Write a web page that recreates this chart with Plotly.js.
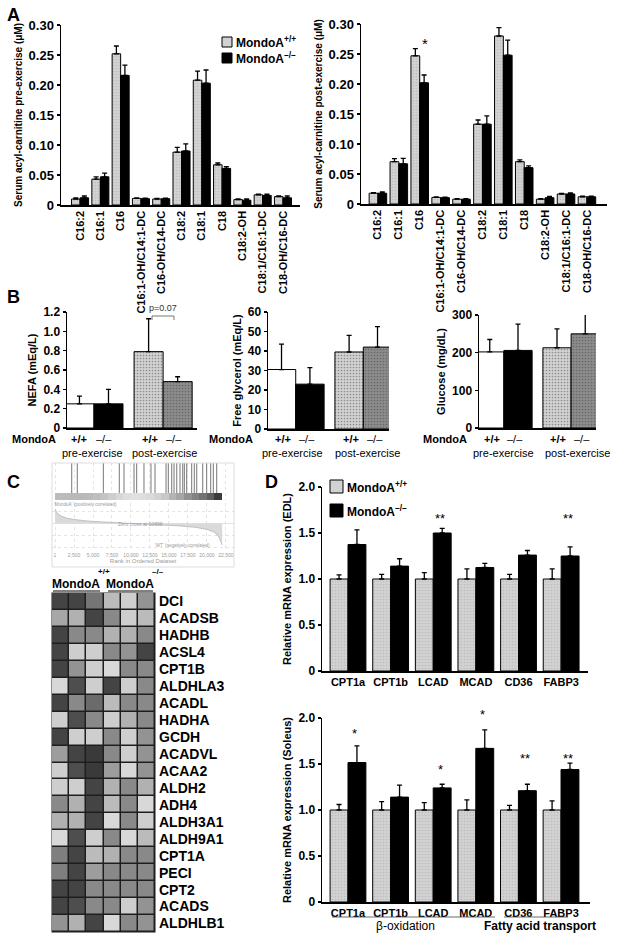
<!DOCTYPE html>
<html><head><meta charset="utf-8">
<script src="https://cdn.plot.ly/plotly-3.0.1.min.js"></script>
<style>body{margin:0;padding:0;background:#fff}#chart{width:621px;height:938px}</style>
</head><body><div id="chart"></div>
<script>
// ---------- DATA ----------
// Panel A: serum acyl-carnitines (uM)
const acylCategories = ["C16:2","C16:1","C16","C16:1-OH/C14:1-DC","C16-OH/C14-DC","C18:2","C18:1","C18","C18:2-OH","C18:1/C16:1-DC","C18-OH/C16-DC"];
const preWT     = [0.010,0.043,0.252,0.011,0.010,0.088,0.208,0.067,0.009,0.017,0.014];
const preWTErr  = [0.002,0.004,0.013,0.001,0.001,0.008,0.015,0.003,0.001,0.001,0.001];
const preKO     = [0.012,0.047,0.216,0.0105,0.0105,0.090,0.203,0.061,0.008,0.016,0.012];
const preKOErr  = [0.003,0.006,0.017,0.001,0.001,0.012,0.022,0.003,0.002,0.002,0.003];
const postWT    = [0.018,0.0705,0.247,0.011,0.008,0.133,0.280,0.0705,0.008,0.0167,0.012];
const postWTErr = [0.001,0.005,0.012,0.001,0.001,0.007,0.014,0.003,0.001,0.001,0.001];
const postKO    = [0.018,0.067,0.202,0.0105,0.008,0.133,0.248,0.0605,0.0105,0.0167,0.012];
const postKOErr = [0.002,0.009,0.013,0.001,0.001,0.014,0.025,0.003,0.002,0.002,0.001];
const postStarCategory = "C16";
const postStarY = 0.268;

// Panel B
const exerciseGroups = ["pre-exercise","post-exercise"];
const nefaWT = [0.25,0.79],  nefaWTErr = [0.08,0.34];
const nefaKO = [0.25,0.48],  nefaKOErr = [0.15,0.05];
const glycerolWT = [30.5,39.5], glycerolWTErr = [13,8.5];
const glycerolKO = [23,42],     glycerolKOErr = [8.5,10.5];
const glucoseWT = [202,213], glucoseWTErr = [33,50];
const glucoseKO = [206,250], glucoseKOErr = [70,52];

// Panel C: GSEA
const hitRanks = [2200,2930,6360,8460,9080,10400,10750,11710,12630,13160,14610,14910,15360,15660,16020,16450,16810,17020,17330,17990,18330,18650,19440,19960,20490,20830,21280];
const metricRanks  = [0,300,800,1500,2500,4000,6000,8000,10000,10900,12500,14500,16500,18500,20000,21000,21600,22000];
const metricValues = [0.42,0.30,0.22,0.16,0.12,0.08,0.05,0.03,0.01,0,-0.02,-0.04,-0.07,-0.11,-0.17,-0.25,-0.40,-0.62];
const colorBarRanks  = [500,1500,2500,3500,4500,5500,6500,7500,8500,9500,10500,11500,12500,13500,14500,15500,16500,17500,18500,19500,20500,21500];
const colorBarLevels = [188,186,185,184,186,190,196,205,215,222,224,222,218,210,200,180,165,145,130,115,95,60];
const rankTickVals = [1,2500,5000,7500,10000,12500,15000,17500,20000,22500];
const rankTickText = ["1","2,500","5,000","7,500","10,000","12,500","15,000","17,500","20,000","22,500"];

// Panel C: heatmap
const heatGenes = ["DCI","ACADSB","HADHB","ACSL4","CPT1B","ALDHLA3","ACADL","HADHA","GCDH","ACADVL","ACAA2","ALDH2","ADH4","ALDH3A1","ALDH9A1","CPT1A","PECI","CPT2","ACADS","ALDHLB1"];
const heatSamples = [0,1,2,3,4,5];
const heatValues = [
 [0.15,0.15,0.40,0.75,0.85,0.55],
 [0.65,0.70,0.15,0.50,0.85,0.75],
 [0.15,0.50,0.50,0.70,0.70,0.50],
 [0.15,0.85,0.85,0.50,0.55,0.15],
 [0.15,0.55,0.85,0.90,0.50,0.50],
 [0.90,0.20,0.85,0.15,0.85,0.50],
 [0.15,0.50,0.35,0.75,0.50,0.50],
 [0.85,0.20,0.50,0.85,0.70,0.50],
 [0.15,0.85,0.85,0.50,0.85,0.55],
 [0.60,0.15,0.10,0.50,0.85,0.55],
 [0.85,0.20,0.10,0.60,0.90,0.55],
 [0.85,0.85,0.15,0.70,0.50,0.70],
 [0.50,0.70,0.15,0.75,0.50,0.90],
 [0.70,0.70,0.15,0.90,0.50,0.85],
 [0.90,0.20,0.85,0.50,0.90,0.75],
 [0.45,0.15,0.75,0.70,0.50,0.50],
 [0.45,0.15,0.60,0.50,0.50,0.50],
 [0.15,0.15,0.50,0.50,0.50,0.50],
 [0.15,0.20,0.50,0.50,0.85,0.55],
 [0.55,0.70,0.15,0.90,0.50,0.55]
];

// Panel D
const dGenes = ["CPT1a","CPT1b","LCAD","MCAD","CD36","FABP3"];
const edlWT = [1,1,1,1,1,1],       edlWTErr = [0.045,0.05,0.07,0.11,0.05,0.11];
const edlKO = [1.375,1.14,1.50,1.125,1.26,1.25], edlKOErr = [0.16,0.08,0.05,0.045,0.05,0.10];
const solWT = [1,1,1,1,1,1],       solWTErr = [0.06,0.09,0.08,0.11,0.05,0.10];
const solKO = [1.516,1.14,1.24,1.67,1.21,1.44], solKOErr = [0.18,0.13,0.04,0.20,0.07,0.07];
const edlSig  = ["","","**","","","**"], edlSigY = [0,0,1.66,0,0,1.66];
const solSig  = ["*","","*","*","**","**"], solSigY = [1.83,0,1.44,2.04,1.56,1.56];

// ---------- HELPERS ----------
const W=621,H=938;
const px = v => v/W;
const py = v => 1 - v/H;
const FONT = 'Liberation Sans, Arial, Helvetica, sans-serif';
const LIGHT = '#d2d2d2', DARK='#8c8c8c';
const zeros = a => a.map(()=>0);

function yAx(top,bottom,range,tickvals,ticktext,title,extra){
  return Object.assign({
    domain:[py(bottom),py(top)], range:range,
    showline:true, linecolor:'#000', linewidth:1.5, ticks:'outside', ticklen:3, tickwidth:1.5, tickcolor:'#000',
    zeroline:false, showgrid:false, tickvals:tickvals, ticktext:ticktext,
    tickfont:{family:FONT,size:12,color:'#000',weight:'bold'},
    title:{text:title, font:{family:FONT,size:11,color:'#000',weight:'bold'}, standoff:4}
  }, extra||{});
}
function xAx(left,right,range,extra){
  return Object.assign({
    domain:[px(left),px(right)], range:range,
    showline:true, linecolor:'#000', linewidth:1.5, ticks:'', zeroline:false, showgrid:false,
    tickfont:{family:FONT,size:11,color:'#000',weight:'bold'}
  }, extra||{});
}
function errY(arr){ return {type:'data', array:arr, arrayminus:zeros(arr), symmetric:false, color:'#000', thickness:1.3, width:2.5}; }
function bar(x,y,err,color,xa,ya,name,pat){
  const m = {color:color, line:{color:'#000',width:1}};
  if(pat) m.pattern = {shape:pat, size:3, solidity:0.25, fgcolor:'#a8a8a8', fillmode:'overlay'};
  return {type:'bar', x:x, y:y, error_y:errY(err), xaxis:xa, yaxis:ya, name:name, marker:m, showlegend:false};
}

const traces = [];
// Panel A
traces.push(bar(acylCategories,preWT,preWTErr,LIGHT,'x','y','MondoA+/+','.'));
traces.push(bar(acylCategories,preKO,preKOErr,'#000','x','y','MondoA-/-'));
traces.push(bar(acylCategories,postWT,postWTErr,LIGHT,'x2','y2','MondoA+/+','.'));
traces.push(bar(acylCategories,postKO,postKOErr,'#000','x2','y2','MondoA-/-'));
// Panel B
traces.push(bar(exerciseGroups,nefaWT,nefaWTErr,['#fff',LIGHT],'x3','y3','WT',['','.']));
traces.push(bar(exerciseGroups,nefaKO,nefaKOErr,['#000',DARK],'x3','y3','KO',['','.']));
traces.push(bar(exerciseGroups,glycerolWT,glycerolWTErr,['#fff',LIGHT],'x4','y4','WT',['','.']));
traces.push(bar(exerciseGroups,glycerolKO,glycerolKOErr,['#000',DARK],'x4','y4','KO',['','.']));
traces.push(bar(exerciseGroups,glucoseWT,glucoseWTErr,['#fff',LIGHT],'x5','y5','WT',['','.']));
traces.push(bar(exerciseGroups,glucoseKO,glucoseKOErr,['#000',DARK],'x5','y5','KO',['','.']));
// Panel C GSEA
const hx=[],hy=[];
hitRanks.forEach(r=>{hx.push(r,r,null);hy.push(0,1,null);});
traces.push({type:'scatter',mode:'lines',x:hx,y:hy,xaxis:'x6',yaxis:'y10',line:{color:'#777',width:1},showlegend:false,hoverinfo:'skip'});
traces.push({type:'heatmap',x:colorBarRanks,y:[0],z:[colorBarLevels],xaxis:'x6',yaxis:'y11',zmin:0,zmax:255,
  colorscale:[[0,'#000'],[1,'#fff']],showscale:false});
traces.push({type:'scatter',mode:'lines',x:metricRanks,y:metricValues,xaxis:'x6',yaxis:'y6',fill:'tozeroy',
  fillcolor:'#dadada',line:{color:'#b5b5b5',width:0.8},showlegend:false});
// Panel C heatmap
traces.push({type:'heatmap',x:heatSamples,y:heatGenes,z:heatValues,xaxis:'x7',yaxis:'y7',zmin:0,zmax:1,
  colorscale:[[0,'#262626'],[1,'#ececec']],showscale:false,xgap:1.5,ygap:1.5});
// Panel D
traces.push(bar(dGenes,edlWT,edlWTErr,LIGHT,'x8','y8','MondoA+/+','.'));
traces.push(bar(dGenes,edlKO,edlKOErr,'#000','x8','y8','MondoA-/-'));
traces.push(bar(dGenes,solWT,solWTErr,LIGHT,'x9','y9','MondoA+/+','.'));
traces.push(bar(dGenes,solKO,solKOErr,'#000','x9','y9','MondoA-/-'));

const aTicks=[0,0.05,0.10,0.15,0.20,0.25,0.30], aText=["0","0.05","0.10","0.15","0.20","0.25","0.30"];
const dTicks=[0,0.5,1,1.5,2], dText=["0","0.5","1.0","1.5","2.0"];
const aTitleFont = {family:FONT,size:10,color:'#000',weight:'bold'};

const layout = {
  width:W, height:H, margin:{l:0,r:0,t:0,b:0},
  paper_bgcolor:'#fff', plot_bgcolor:'rgba(0,0,0,0)',
  font:{family:FONT,color:'#000'}, showlegend:false,
  barmode:'group', bargap:0.16, bargroupgap:0,
  // A left
  xaxis: xAx(61,300,[-0.94,10.84],{anchor:'y',type:'category',tickangle:-90}),
  yaxis: yAx(25,205,[0,0.30],aTicks,aText,'Serum acyl-carnitine pre-exercise (μM)',{anchor:'x',tickfont:{family:FONT,size:13,color:'#000',weight:'bold'}}),
  // A right
  xaxis2: xAx(361,607,[-0.81,10.96],{anchor:'y2',type:'category',tickangle:-90}),
  yaxis2: yAx(24,204,[0,0.30],aTicks,aText,'Serum acyl-carnitine post-exercise (μM)',{anchor:'x2',tickfont:{family:FONT,size:13,color:'#000',weight:'bold'}}),
  // B1
  xaxis3: xAx(67,197,[-0.39,1.49],{anchor:'y3',type:'category',showticklabels:false}),
  yaxis3: yAx(312,428,[0,1.2],[0,0.2,0.4,0.6,0.8,1.0,1.2],["0","0.2","0.4","0.6","0.8","1.0","1.2"],'NEFA (mEq/L)',{anchor:'x3'}),
  // B2
  xaxis4: xAx(268,389,[-0.41,1.38],{anchor:'y4',type:'category',showticklabels:false}),
  yaxis4: yAx(312,429,[0,60],[0,10,20,30,40,50,60],["0","10","20","30","40","50","60"],'Free glycerol (mEq/L)',{anchor:'x4'}),
  // B3
  xaxis5: xAx(479,596,[-0.37,1.37],{anchor:'y5',type:'category',showticklabels:false}),
  yaxis5: yAx(315,428,[0,300],[0,100,200,300],["0","100","200","300"],'Glucose (mg/dL)',{anchor:'x5'}),
  // C GSEA
  xaxis6: {domain:[px(52),px(234)], range:[-395,23556], anchor:'y6', showline:false, zeroline:false,
    showgrid:true, gridcolor:'#e4e4e4', griddash:'dot', gridwidth:1, tickvals:rankTickVals, ticktext:rankTickText,
    ticks:'', tickfont:{family:FONT,size:5,color:'#9a9a9a'},
    title:{text:'Rank in Ordered Dataset', font:{family:FONT,size:6,color:'#9a9a9a'}, standoff:1}},
  yaxis6: {domain:[py(551),py(503)], range:[-0.8,0.6], anchor:'x6', showticklabels:false, ticks:'', showline:false,
    showgrid:true, gridcolor:'#e4e4e4', griddash:'dot', tickvals:[-0.7,-0.35,0.35], zeroline:true, zerolinecolor:'#cfcfcf', zerolinewidth:0.6},
  yaxis10: {domain:[py(493),py(463)], range:[0,1], anchor:'x6', visible:false},
  yaxis11: {domain:[py(500),py(493)], range:[-0.5,0.5], anchor:'x6', visible:false},
  // C heatmap
  xaxis7: {domain:[px(52),px(155)], anchor:'y7', type:'linear', range:[-0.5,5.5], autorange:false,
    showticklabels:false, showline:false, showgrid:false, zeroline:false, ticks:''},
  yaxis7: {domain:[py(932),py(593)], anchor:'x7', autorange:'reversed', side:'right', showline:false, showgrid:false, zeroline:false, ticks:'',
    tickmode:'array', tickvals:heatGenes, ticktext:heatGenes,
    ticklabelstandoff:3, tickfont:{family:FONT,size:14,color:'#000',weight:'bold'}},
  // D top
  xaxis8: xAx(322,588,[-0.61,5.63],{anchor:'y8',type:'category'}),
  yaxis8: yAx(487,671,[0,2],dTicks,dText,'Relative mRNA expression (EDL)',{anchor:'x8'}),
  // D bottom
  xaxis9: xAx(322,590,[-0.61,5.68],{anchor:'y9',type:'category'}),
  yaxis9: yAx(718,902,[0,2],dTicks,dText,'Relative mRNA expression (Soleus)',{anchor:'x9'}),
  shapes:[], annotations:[]
};
layout.yaxis.title.font = aTitleFont;
layout.yaxis2.title.font = aTitleFont;

function ann(text,x,y,size,opts){
  layout.annotations.push(Object.assign({text:text,x:px(x),y:py(y),xref:'paper',yref:'paper',showarrow:false,
    xanchor:'center',yanchor:'middle',font:{family:FONT,size:size,color:'#000'}},opts||{}));
}
function boldAnn(text,x,y,size,opts){ ann(text,x,y,size,Object.assign({font:{family:FONT,size:size,color:'#000',weight:'bold'}},opts||{})); }
function line(x0,y0,x1,y1,color,w){ layout.shapes.push({type:'line',xref:'paper',yref:'paper',x0:px(x0),y0:py(y0),x1:px(x1),y1:py(y1),line:{color:color||'#000',width:w||1}}); }
function box(x0,y0,x1,y1,fill){ layout.shapes.push({type:'rect',xref:'paper',yref:'paper',x0:px(x0),y0:py(y1),x1:px(x1),y1:py(y0),fillcolor:fill,line:{color:'#000',width:1}}); }
function legendItem(x0,y0,size,fill,sup,fontSize){
  box(x0,y0,x0+size,y0+size,fill);
  boldAnn('MondoA<sup>'+sup+'</sup>',x0+size+2,y0+size/2,fontSize,{xanchor:'left'});
}

// panel letters
boldAnn('A',13,15,18); boldAnn('B',13,297,18); boldAnn('C',13,482,18); boldAnn('D',271,482,18);

// legends (drawn as boxes + text)
legendItem(222,37,10,LIGHT,'+/+',12);
legendItem(222,53,10,'#000','–/–',12);
legendItem(330,480,13,LIGHT,'+/+',12);
legendItem(330,504,13,'#000','–/–',12);

// A right star
layout.annotations.push({text:'*',x:postStarCategory,y:postStarY,xref:'x2',yref:'y2',xshift:5,showarrow:false,font:{family:FONT,size:15,color:'#000'}});

// B group labels
function bLabels(mx, pos, pre, post){
  boldAnn('MondoA', mx, 439, 11);
  boldAnn('+/+', pos[0], 439, 11); ann('–/–', pos[1], 439, 11);
  boldAnn('+/+', pos[2], 439, 11); ann('–/–', pos[3], 439, 11);
  ann('pre-exercise', pre, 453, 11); ann('post-exercise', post, 453, 11);
}
bLabels(34,[79,104,150,174],92,164);
bLabels(231,[283,307,351,375],292,367);
bLabels(445,[492,515,558,582],503,577);
// p=0.07 bracket
layout.shapes.push({type:'path',xref:'paper',yref:'paper',
  path:`M ${px(152)},${py(320)} L ${px(152)},${py(316)} L ${px(174)},${py(316)} L ${px(174)},${py(320)}`,line:{color:'#555',width:0.8}});
ann('p=0.07',163,308,9,{font:{family:FONT,size:9,color:'#333'}});

// GSEA frame and tiny texts
layout.shapes.push({type:'rect',xref:'paper',yref:'paper',x0:px(52),x1:px(234),y0:py(567),y1:py(463),line:{color:'#dddddd',width:1},fillcolor:'rgba(0,0,0,0)'});
ann("'MondoA' (positively correlated)",85,504,4.5,{font:{family:FONT,size:4.5,color:'#9a9a9a'}});
ann('Zero cross at 10898',140,524,5,{font:{family:FONT,size:5,color:'#9a9a9a'}});
ann("'WT' (negatively correlated)",182,545,4.5,{font:{family:FONT,size:4.5,color:'#9a9a9a'}});

// heatmap border and header
layout.shapes.push({type:'rect',xref:'paper',yref:'paper',x0:px(51.5),x1:px(155.5),y0:py(932.5),y1:py(592.5),fillcolor:'#1e1e1e',line:{width:0},layer:'below'});
boldAnn('MondoA',76,584,12);
boldAnn('+/+',104,571,8);
boldAnn('MondoA',130,584,12);
boldAnn('–/–',158,571,8);
line(53,591,100,591,'#000',1); line(108,591,153,591,'#000',1);

// D stars
function starAnn(g,text,val,xa,ya,top){
  const over = Math.max(0,val-top);
  layout.annotations.push({text:text,x:g,y:Math.min(val,top),xref:xa,yref:ya,xshift:7,yshift:over*92,showarrow:false,font:{family:FONT,size:13,color:'#000'}});
}
dGenes.forEach((g,i)=>{
  if(edlSig[i]) starAnn(g,edlSig[i],edlSigY[i],'x8','y8',2);
  if(solSig[i]) starAnn(g,solSig[i],solSigY[i],'x9','y9',2);
});
// D bottom grouping
line(332,917,495,917,'#444',0.8); line(504,917,568,917,'#444',0.8);
ann('β-oxidation',405,926,12);
boldAnn('Fatty acid transport',540,926,12);

Plotly.newPlot('chart', traces, layout, {staticPlot:true, displayModeBar:false});
</script>
</body></html>
